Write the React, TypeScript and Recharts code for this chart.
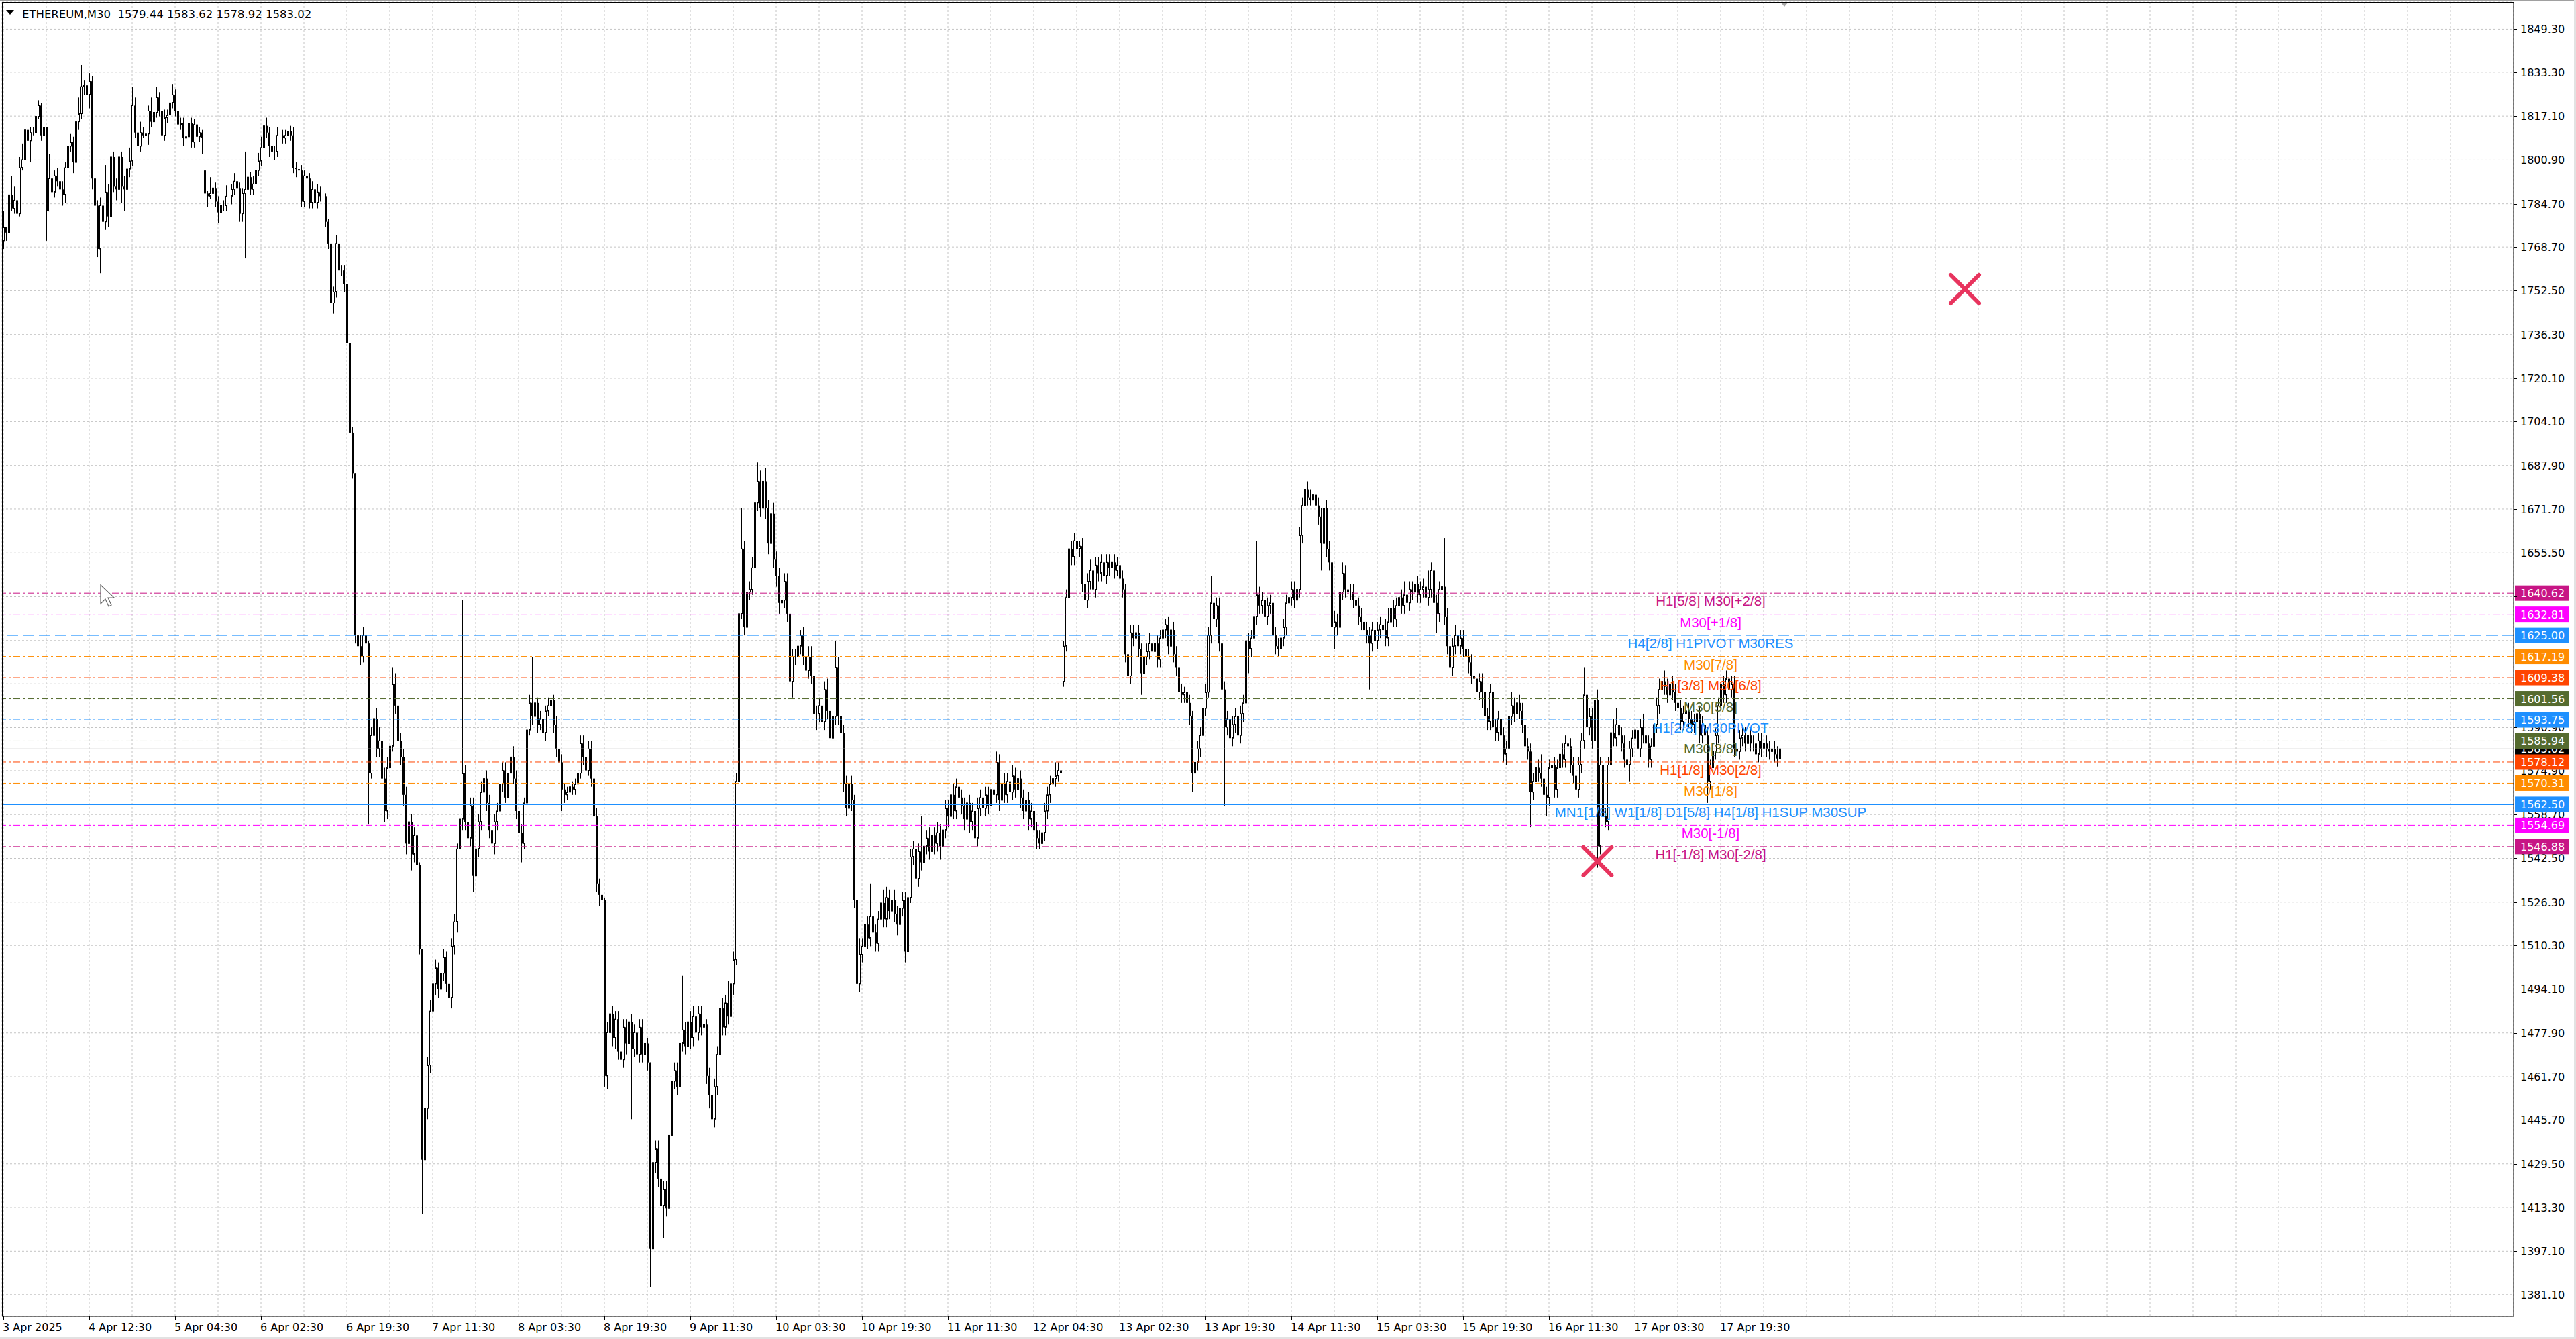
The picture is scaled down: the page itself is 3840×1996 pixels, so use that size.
import React from 'react';
import {
  ComposedChart, Bar, XAxis, YAxis, CartesianGrid, ReferenceLine, ReferenceDot,
} from 'recharts';

const W = 3840;
const H = 1996;

// ETHEREUM M30, one close per bar, wicks in price units above/below the body
const firstOpen = 1771;
const gapOpens: Record<number, number> = { 75: 1797, 395: 1608 };

const closes = [
  1776, 1774, 1788, 1783, 1786, 1781, 1798, 1801, 1812, 1808, 1811, 1811, 1817, 1821, 1810, 1813,
  1782, 1794, 1789, 1795, 1793, 1790, 1788, 1798, 1806, 1807.5, 1800, 1815, 1818, 1828, 1828.5, 1825,
  1830, 1794, 1784, 1768, 1784, 1778, 1789, 1780, 1802, 1791, 1790, 1802, 1791, 1790, 1797.5, 1800.5,
  1821, 1811, 1806, 1811, 1810, 1810.5, 1819, 1815, 1818.5, 1824, 1819, 1810, 1816.5, 1817.5, 1822, 1825,
  1819, 1814, 1814.5, 1809, 1809.5, 1814.5, 1807.5, 1814, 1809.5, 1811, 1809, 1788.5, 1787.5, 1788.5, 1790.5, 1785.5,
  1781.5, 1784, 1784, 1787.5, 1787.5, 1790, 1793, 1790.5, 1781, 1788.5, 1790, 1794.5, 1790, 1792, 1797, 1800.5,
  1805.5, 1813.5, 1811, 1806, 1804, 1804, 1810, 1810, 1809, 1810, 1811.5, 1810, 1798, 1797.5, 1797, 1785.5,
  1795, 1794, 1785, 1790, 1785, 1789, 1787.5, 1787.5, 1778, 1770, 1748, 1752, 1770, 1760, 1760, 1755,
  1733, 1700, 1685, 1625, 1621, 1617, 1625, 1622, 1574, 1588, 1594, 1583, 1586, 1572, 1560, 1576,
  1584, 1607, 1599, 1586, 1580, 1566, 1548, 1556, 1544, 1551, 1540, 1509, 1431, 1450, 1466, 1486,
  1496, 1502, 1494, 1500, 1506, 1496, 1491, 1510, 1519, 1546, 1557, 1574, 1556, 1550, 1562, 1536,
  1546, 1556, 1567, 1572, 1563, 1553, 1548, 1556, 1560, 1570, 1575, 1565, 1574, 1580, 1572, 1560,
  1552, 1548, 1563, 1590, 1600, 1595, 1600, 1592, 1594, 1589, 1597, 1599, 1601, 1592, 1583, 1578,
  1568, 1566, 1567, 1569, 1568, 1570, 1574, 1585, 1580, 1575, 1583, 1572, 1558, 1533, 1529, 1527,
  1462, 1478, 1485, 1476, 1483, 1471, 1468, 1480, 1474, 1482, 1472, 1478, 1470, 1480, 1470, 1474,
  1467, 1398, 1430, 1435, 1424, 1414, 1420, 1413, 1440, 1460, 1464, 1458, 1474, 1479, 1473, 1482,
  1476, 1484, 1478, 1485, 1480, 1481, 1462, 1455, 1446, 1458, 1470, 1487, 1480, 1489, 1484, 1496,
  1505, 1571, 1633, 1657, 1628, 1641, 1642, 1650, 1674, 1682, 1672, 1682, 1672, 1659, 1670, 1653,
  1647, 1637, 1638, 1645, 1633, 1608, 1617, 1617, 1621, 1625, 1617, 1612, 1617, 1610, 1596, 1596,
  1599, 1593, 1605, 1597, 1587, 1595, 1613, 1595, 1589, 1570, 1561, 1570, 1564, 1527, 1496, 1507,
  1510, 1518, 1513, 1521, 1515, 1511, 1520, 1526, 1520, 1528, 1523, 1527, 1522, 1518, 1524, 1527,
  1508, 1528, 1543, 1546, 1535, 1545, 1541, 1547, 1550, 1545, 1551, 1548, 1552, 1547, 1553, 1561,
  1558, 1566, 1560, 1569, 1565, 1562, 1557, 1563, 1556, 1560, 1550, 1561, 1565, 1561, 1566, 1562,
  1568, 1566, 1578, 1564, 1570, 1566, 1571, 1567, 1573, 1568, 1572, 1565, 1560, 1564, 1557, 1560,
  1553, 1550, 1548, 1552, 1560, 1566, 1570, 1572, 1573, 1575, 1574, 1621, 1639, 1657, 1654, 1660,
  1657, 1658, 1644, 1638, 1645, 1649, 1642, 1651, 1648, 1652, 1647, 1652, 1650, 1652, 1649, 1651,
  1646, 1642, 1618, 1610, 1626, 1624, 1626, 1620, 1611, 1617, 1619, 1622, 1619, 1622, 1616, 1624,
  1627, 1629, 1621, 1627, 1618, 1613, 1604, 1603, 1604, 1600, 1595, 1574, 1578, 1583, 1588, 1598,
  1604, 1625, 1637, 1631, 1636, 1622, 1605, 1591, 1594, 1587, 1592, 1595, 1588, 1596, 1600, 1623,
  1620, 1624, 1632, 1640, 1636, 1638, 1632, 1636, 1637, 1625, 1621, 1620, 1624, 1628, 1637, 1639,
  1642, 1638, 1642, 1662, 1673, 1679, 1676, 1675, 1677, 1673, 1669, 1659, 1672, 1657, 1652, 1628,
  1630, 1628, 1641, 1648, 1642, 1641, 1641, 1638, 1636, 1632, 1630, 1627, 1625, 1622, 1627, 1623,
  1627, 1629, 1627, 1624, 1630, 1635, 1631, 1636, 1639, 1636, 1640, 1637, 1642, 1641, 1644, 1640,
  1642, 1643, 1639, 1642, 1649, 1637, 1633, 1642, 1643, 1632, 1621, 1613, 1621, 1625, 1621, 1624,
  1620, 1617, 1615, 1610, 1609, 1604, 1608, 1604, 1595, 1593, 1604, 1591, 1589, 1594, 1588, 1581,
  1583, 1595, 1599, 1596, 1600, 1597, 1592, 1584, 1582, 1567, 1571, 1576, 1574, 1572, 1566, 1565,
  1576, 1577, 1568, 1576, 1581, 1579, 1585, 1584, 1577, 1573, 1568, 1577, 1586, 1603, 1591, 1595,
  1586, 1601, 1547, 1577, 1558, 1556, 1577, 1589, 1587, 1592, 1588, 1585, 1579, 1577, 1583, 1587,
  1590, 1583, 1591, 1588, 1585, 1579, 1584, 1592, 1599, 1605, 1608, 1606, 1603, 1607, 1604, 1600,
  1598, 1593, 1596, 1597, 1594, 1592, 1593, 1596, 1588, 1592, 1588, 1571, 1576, 1582, 1588, 1599,
  1607, 1603, 1609, 1605, 1607, 1583, 1582, 1587, 1588, 1585, 1588, 1585, 1585, 1581, 1586, 1583,
  1585, 1583, 1582, 1583, 1581, 1579.44, 1583.02,
];

const wickUp = [
  6, 0, 10, 7, 5, 2, 4, 6, 6, 4, 2, 2, 4, 2, 1, 4,
  0, 9, 4, 2, 3, 2, 3, 2, 3, 3, 2, 3, 6, 8, 2, 3,
  3, 2, 6, 2, 3, 2, 10, 3, 7, 2, 3, 18, 2, 4, 7, 5,
  7, 3, 2, 4, 2, 2, 2, 5, 2, 4, 2, 2, 3, 2, 2, 4,
  2, 2, 2, 2, 2, 2, 2, 2, 2, 2, 1, 0, 1, 6, 2, 2,
  2, 2, 2, 4, 2, 2, 3, 3, 2, 2, 14, 3, 2, 3, 3, 3,
  4, 5, 3, 2, 2, 2, 3, 2, 2, 2, 2, 2, 3, 2, 2, 2,
  2, 3, 2, 3, 2, 3, 2, 2, 1, 1, 2, 2, 3, 4, 2, 2,
  1, 2, 2, 0, 6, 4, 3, 3, 1, 3, 3, 4, 5, 3, 4, 4,
  4, 6, 4, 3, 3, 3, 3, 3, 3, 3, 4, 1, 0, 3, 3, 4,
  3, 3, 2, 20, 3, 2, 3, 3, 3, 2, 3, 64, 3, 8, 3, 3,
  3, 3, 4, 4, 3, 3, 2, 3, 3, 4, 3, 3, 5, 3, 4, 3,
  3, 3, 2, 2, 3, 17, 3, 2, 3, 2, 2, 3, 3, 2, 3, 2,
  3, 2, 2, 2, 2, 2, 2, 3, 3, 2, 3, 3, 2, 3, 2, 3,
  1, 4, 15, 3, 3, 3, 4, 3, 3, 4, 3, 3, 3, 3, 3, 3,
  2, 0, 5, 3, 3, 3, 3, 3, 5, 4, 3, 3, 3, 20, 3, 3,
  4, 4, 3, 3, 3, 3, 2, 3, 4, 3, 3, 3, 4, 3, 8, 4,
  3, 3, 3, 15, 3, 4, 3, 4, 5, 7, 4, 3, 5, 3, 3, 4,
  3, 3, 3, 3, 3, 2, 3, 3, 3, 2, 3, 3, 4, 4, 2, 3,
  3, 3, 3, 4, 3, 3, 10, 4, 3, 3, 3, 6, 3, 2, 2, 6,
  3, 4, 3, 12, 3, 3, 3, 6, 5, 4, 3, 3, 4, 3, 3, 3,
  3, 3, 3, 3, 3, 3, 13, 3, 3, 4, 3, 3, 4, 3, 18, 3,
  3, 3, 4, 3, 4, 3, 3, 3, 3, 3, 3, 4, 3, 3, 3, 3,
  4, 25, 4, 3, 3, 4, 3, 3, 4, 3, 3, 3, 3, 3, 3, 3,
  3, 3, 3, 3, 3, 3, 3, 3, 5, 3, 4, 2, 3, 12, 3, 3,
  5, 2, 3, 3, 3, 4, 5, 3, 3, 3, 5, 3, 3, 3, 3, 3,
  3, 3, 2, 2, 3, 3, 3, 3, 2, 3, 3, 4, 3, 3, 3, 3,
  3, 2, 3, 2, 3, 3, 3, 3, 2, 3, 3, 2, 3, 3, 3, 3,
  3, 3, 10, 3, 3, 3, 2, 3, 3, 3, 3, 3, 4, 3, 3, 10,
  3, 3, 3, 20, 3, 3, 3, 3, 3, 3, 3, 3, 3, 3, 3, 3,
  3, 3, 5, 3, 3, 12, 3, 3, 4, 3, 3, 3, 18, 3, 3, 2,
  4, 3, 3, 4, 3, 3, 3, 3, 3, 3, 3, 3, 3, 3, 3, 3,
  3, 3, 3, 4, 5, 3, 3, 3, 3, 3, 5, 4, 3, 3, 3, 3,
  3, 3, 3, 7, 3, 3, 3, 3, 3, 18, 3, 3, 3, 4, 3, 3,
  3, 3, 3, 3, 3, 3, 3, 3, 3, 3, 3, 3, 3, 3, 3, 3,
  3, 3, 5, 3, 3, 3, 3, 3, 3, 3, 3, 3, 3, 7, 3, 3,
  3, 7, 3, 3, 3, 4, 3, 3, 3, 3, 3, 3, 3, 10, 5, 3,
  3, 12, 4, 3, 3, 3, 3, 3, 5, 6, 3, 3, 3, 3, 3, 3,
  3, 3, 3, 5, 3, 3, 3, 3, 3, 4, 3, 4, 3, 5, 3, 3,
  3, 3, 3, 3, 3, 3, 3, 5, 3, 3, 3, 3, 3, 3, 3, 3,
  7, 3, 3, 4, 3, 3, 3, 3, 3, 3, 3, 3, 3, 3, 3, 3,
  3, 3, 3, 3, 3, 3, 0.6,
];

const wickDn = [
  3, 3, 2, 1, 2, 2, 1, 1, 2, 2, 8, 1, 1, 1, 2, 4,
  11, 0, 3, 2, 2, 3, 4, 3, 2, 2, 4, 2, 3, 2, 3, 2,
  5, 4, 3, 3, 9, 2, 3, 4, 3, 2, 4, 3, 6, 8, 4, 3,
  2, 2, 3, 2, 1, 2, 4, 2, 2, 2, 2, 3, 2, 2, 3, 2,
  2, 3, 2, 3, 2, 2, 2, 2, 2, 2, 6, 3, 4, 1, 2, 2,
  4, 2, 2, 2, 2, 3, 2, 2, 3, 3, 24, 2, 2, 2, 2, 2,
  2, 2, 2, 4, 2, 3, 2, 2, 2, 2, 2, 2, 2, 3, 3, 2,
  2, 2, 2, 2, 3, 2, 2, 2, 2, 2, 10, 4, 2, 3, 2, 3,
  3, 3, 2, 3, 18, 3, 2, 2, 19, 2, 4, 3, 3, 34, 4, 3,
  2, 2, 3, 3, 3, 4, 4, 2, 6, 3, 2, 2, 20, 2, 4, 3,
  4, 4, 3, 3, 3, 3, 3, 4, 3, 4, 3, 4, 3, 14, 3, 6,
  6, 3, 3, 3, 3, 3, 3, 4, 3, 3, 3, 2, 3, 3, 2, 3,
  4, 7, 2, 3, 2, 3, 2, 3, 2, 3, 3, 2, 3, 3, 3, 3,
  8, 3, 2, 2, 2, 2, 3, 2, 3, 3, 2, 3, 3, 3, 4, 4,
  4, 5, 4, 3, 4, 3, 14, 3, 4, 3, 26, 3, 4, 3, 3, 4,
  3, 14, 2, 4, 3, 4, 12, 3, 3, 2, 3, 3, 2, 3, 3, 3,
  4, 3, 4, 3, 3, 3, 3, 5, 6, 3, 3, 4, 3, 3, 3, 3,
  4, 2, 3, 2, 3, 10, 3, 2, 3, 3, 3, 3, 4, 4, 3, 3,
  4, 4, 6, 3, 3, 3, 6, 3, 3, 3, 3, 4, 3, 3, 4, 6,
  3, 4, 3, 3, 4, 3, 3, 3, 4, 3, 3, 4, 4, 3, 23, 3,
  3, 3, 4, 3, 4, 3, 3, 3, 3, 3, 3, 4, 3, 4, 3, 3,
  4, 3, 2, 3, 3, 3, 3, 3, 3, 3, 3, 4, 3, 5, 3, 3,
  4, 3, 3, 3, 3, 3, 4, 3, 4, 3, 9, 3, 3, 3, 3, 3,
  3, 3, 3, 4, 3, 3, 3, 3, 3, 3, 3, 4, 3, 3, 4, 3,
  3, 4, 2, 3, 3, 3, 3, 3, 3, 2, 2, 2, 2, 2, 3, 3,
  3, 3, 3, 9, 3, 3, 3, 3, 3, 3, 3, 3, 3, 3, 3, 2,
  3, 3, 3, 2, 3, 3, 3, 3, 8, 3, 3, 3, 3, 3, 3, 3,
  3, 3, 3, 3, 3, 3, 3, 3, 3, 3, 3, 7, 4, 3, 3, 3,
  3, 2, 3, 4, 3, 3, 4, 29, 3, 13, 3, 3, 5, 3, 3, 3,
  9, 3, 3, 3, 3, 3, 3, 3, 3, 3, 3, 3, 3, 3, 3, 3,
  3, 3, 3, 3, 3, 3, 3, 2, 3, 3, 3, 10, 3, 3, 3, 3,
  8, 3, 3, 3, 3, 3, 3, 3, 3, 3, 3, 4, 3, 17, 3, 3,
  3, 3, 3, 3, 3, 3, 3, 3, 3, 3, 3, 3, 3, 3, 3, 3,
  3, 3, 3, 3, 3, 3, 7, 3, 3, 3, 3, 11, 3, 3, 3, 3,
  3, 3, 4, 3, 3, 3, 3, 6, 8, 3, 3, 5, 3, 3, 8, 3,
  4, 3, 3, 3, 3, 3, 3, 3, 3, 13, 3, 3, 3, 3, 3, 7,
  3, 3, 3, 3, 3, 3, 3, 3, 3, 3, 3, 3, 3, 3, 3, 3,
  3, 3, 8, 3, 4, 2, 3, 3, 3, 3, 3, 3, 3, 3, 6, 3,
  3, 3, 3, 3, 3, 3, 3, 3, 3, 3, 3, 3, 3, 3, 3, 3,
  3, 3, 3, 3, 3, 3, 3, 3, 3, 3, 3, 8, 3, 3, 3, 3,
  3, 3, 3, 3, 3, 3, 4, 3, 3, 3, 3, 3, 3, 5, 3, 3,
  3, 3, 3, 3, 3, 3, 0.52,
];

// one time label every 32 bars, grid every 16
const timeLabels = [
  '3 Apr 2025', '4 Apr 12:30', '5 Apr 04:30', '6 Apr 02:30', '6 Apr 19:30', '7 Apr 11:30',
  '8 Apr 03:30', '8 Apr 19:30', '9 Apr 11:30', '10 Apr 03:30', '10 Apr 19:30', '11 Apr 11:30',
  '12 Apr 04:30', '13 Apr 02:30', '13 Apr 19:30', '14 Apr 11:30', '15 Apr 03:30', '15 Apr 19:30',
  '16 Apr 11:30', '17 Apr 03:30', '17 Apr 19:30',
];
const barsPerLabel = 32;
const barsPerGrid = 16;
const visibleSlots = 936;

const priceTicks = [
  1849.3, 1833.3, 1817.1, 1800.9, 1784.7, 1768.7, 1752.5, 1736.3, 1720.1, 1704.1,
  1687.9, 1671.7, 1655.5, 1639.3, 1623.1, 1607.1, 1590.9, 1574.9, 1558.7, 1542.5,
  1526.3, 1510.3, 1494.1, 1477.9, 1461.7, 1445.7, 1429.5, 1413.3, 1397.1, 1381.1,
];
const priceDomain = [1373.1, 1859.33];

const levelPrices = [1640.62, 1632.81, 1625.0, 1617.19, 1609.38, 1601.56, 1593.75, 1585.94, 1578.12, 1570.31, 1562.5, 1554.69, 1546.88];
const levelNames = [
  'H1[5/8] M30[+2/8]', 'M30[+1/8]', 'H4[2/8] H1PIVOT M30RES', 'M30[7/8]', 'H1[3/8] M30[6/8]',
  'M30[5/8]', 'H1[2/8] M30PIVOT', 'M30[3/8]', 'H1[1/8] M30[2/8]', 'M30[1/8]',
  'MN1[1/8] W1[1/8] D1[5/8] H4[1/8] H1SUP M30SUP', 'M30[-1/8]', 'H1[-1/8] M30[-2/8]',
];
const levelColors = [
  '#C71585', '#FF00FF', '#1E90FF', '#FF8C00', '#FF4500', '#556B2F', '#1E90FF',
  '#556B2F', '#FF4500', '#FF8C00', '#1E90FF', '#FF00FF', '#C71585',
];
const levelLabelBar = 636.25;
const bidPrice = 1583.02;
const headerText = 'ETHEREUM,M30  1579.44 1583.62 1578.92 1583.02';

const crossBars = [731, 594.1];
const crossPrices = [1753.1, 1541.4];

const candles = closes.map((c, i) => {
  const o = gapOpens[i] ?? (i === 0 ? firstOpen : closes[i - 1]);
  const hi = Math.max(o, c) + wickUp[i];
  const lo = Math.min(o, c) - wickDn[i];
  return { i, o, c, hi, lo, range: [lo, hi] };
});

const gridTicks = Array.from({ length: visibleSlots / barsPerGrid }, (_, k) => k * barsPerGrid);

const AXIS_FONT = 'DejaVu Sans';
const LABEL_FONT = 'Liberation Sans';

// chart layout, used to keep axis labels under the price boxes
const MARGIN = 3;
const X_AXIS_H = 31;
const Y_AXIS_W = 90;
const plotH = H - 2 * MARGIN - X_AXIS_H;
const pxPerPrice = plotH / (priceDomain[1] - priceDomain[0]);
const BOX_H = 23;
const boxPrices = [bidPrice, ...levelPrices];

const Candle = (props: any) => {
  const { x, y, width, height, payload } = props;
  if (!payload) return null;
  const { o, c, hi, lo } = payload;
  const cx = Math.round(x + width / 2);
  const span = hi - lo || 1;
  const py = (v: number) => y + ((hi - v) / span) * height;
  const top = py(Math.max(o, c));
  const bot = py(Math.min(o, c));
  const bull = c >= o;
  return (
    <g>
      <line x1={cx + 0.5} x2={cx + 0.5} y1={y} y2={y + height} stroke="#000" strokeWidth={1} />
      {bull ? (
        <rect x={cx - 0.5} y={top} width={2} height={Math.max(bot - top, 0)} fill="#fff" stroke="#000" strokeWidth={1} />
      ) : (
        <rect x={cx - 1} y={top} width={3} height={Math.max(bot - top, 1)} fill="#000" />
      )}
    </g>
  );
};

const TimeTick = (props: any) => {
  const { x, y, payload } = props;
  const v = payload.value;
  const idx = v / barsPerLabel;
  if (v % barsPerLabel !== 0 || idx >= timeLabels.length) return null;
  return (
    <g>
      <line x1={x + 0.5} x2={x + 0.5} y1={y} y2={y + 6} stroke="#000" />
      <text x={x - 1} y={y + 21.5} fontFamily={AXIS_FONT} fontSize={16} fill="#000">{timeLabels[idx]}</text>
    </g>
  );
};

const PriceTick = (props: any) => {
  const { x, y, payload } = props;
  const v: number = payload.value;
  // the parts of the label that no price box covers
  let pieces: number[][] = [[y - 10, y + 9]];
  boxPrices.forEach((bp) => {
    const by = y - (bp - v) * pxPerPrice;
    const a = by - BOX_H / 2;
    const b = by + BOX_H / 2;
    pieces = pieces.flatMap(([s, e]) => {
      if (b <= s || a >= e) return [[s, e]];
      const out: number[][] = [];
      if (a > s) out.push([s, a]);
      if (b < e) out.push([b, e]);
      return out;
    });
  });
  // glyphs sit between y-6 and y+6; a label with almost nothing left is hidden
  const shown = pieces.reduce((acc, [s, e]) => acc + Math.max(0, Math.min(e, y + 6) - Math.max(s, y - 6)), 0);
  const id = `ptk${String(v).replace('.', '_')}`;
  return (
    <g>
      <line x1={x} x2={x + 5} y1={Math.round(y) + 0.5} y2={Math.round(y) + 0.5} stroke="#000" />
      {shown >= 4 && (
        <>
          <defs>
            <clipPath id={id}>
              {pieces.map(([s, e], k) => <rect key={k} x={x} y={s} width={Y_AXIS_W} height={e - s} />)}
            </clipPath>
          </defs>
          <text x={x + 10} y={y + 6} clipPath={`url(#${id})`} fontFamily={AXIS_FONT} fontSize={16} fill="#000">
            {v.toFixed(2)}
          </text>
        </>
      )}
    </g>
  );
};

const PriceBox = ({ cx, cy, fill, value }: any) => (
  <g>
    <rect x={cx + 2} y={cy - BOX_H / 2} width={80} height={BOX_H} fill={fill} />
    <text x={cx + 10} y={cy + 6} fontFamily={AXIS_FONT} fontSize={16} fill="#fff">{value.toFixed(2)}</text>
  </g>
);

const Cross = ({ cx, cy }: any) => (
  <g stroke="#E8345E" strokeWidth={6} strokeLinecap="round">
    <line x1={cx - 21} y1={cy - 21} x2={cx + 21} y2={cy + 21} />
    <line x1={cx - 21} y1={cy + 21} x2={cx + 21} y2={cy - 21} />
  </g>
);

const dashFor = (i: number) => (i === 2 ? '17 7' : i === 10 ? undefined : '10 4 3 4');

export default function App() {
  return (
    <div style={{ position: 'absolute', left: 0, top: 0, width: W, height: H, background: '#fff', overflow: 'hidden' }}>
      <ComposedChart width={W} height={H} data={candles} margin={{ top: MARGIN, right: MARGIN, bottom: MARGIN, left: MARGIN }}>
        <CartesianGrid stroke="#c4c4c4" strokeDasharray="3 3" />
        <XAxis
          type="number" dataKey="i" domain={[-0.5, visibleSlots - 0.5]} allowDataOverflow
          ticks={gridTicks} interval={0} tick={<TimeTick />} tickLine={false}
          tickSize={0} tickMargin={0} height={X_AXIS_H} axisLine={{ stroke: '#000' }}
        />
        <YAxis
          orientation="right" type="number" domain={priceDomain} allowDataOverflow
          ticks={priceTicks} interval={0} tick={<PriceTick />} tickLine={false}
          tickSize={0} tickMargin={0} width={Y_AXIS_W} axisLine={{ stroke: '#000' }}
        />

        {levelPrices.map((p, i) => (
          <ReferenceLine
            key={`lv${i}`} y={p} stroke={levelColors[i]}
            strokeWidth={i === 10 ? 2 : 1} strokeDasharray={dashFor(i)}
          />
        ))}
        <ReferenceLine y={bidPrice} stroke="#c0c0c0" />

        {levelPrices.map((p, i) => (
          <ReferenceDot
            key={`lt${i}`} x={levelLabelBar} y={p} r={0} ifOverflow="visible"
            shape={(s: any) => (
              <text x={s.cx} y={s.cy + 19} textAnchor="middle" fill={levelColors[i]}
                fontFamily={LABEL_FONT} fontSize={20.5}>{levelNames[i]}</text>
            )}
          />
        ))}

        <Bar dataKey="range" shape={<Candle />} barSize={3} isAnimationActive={false} />

        {crossBars.map((b, i) => (
          <ReferenceDot key={`x${i}`} x={b} y={crossPrices[i]} r={0} ifOverflow="visible" shape={<Cross />} />
        ))}

        <ReferenceDot
          x={closes.length + 0.75} y={priceDomain[1]} r={0} ifOverflow="visible"
          shape={(s: any) => <polygon points={`${s.cx - 6},${s.cy} ${s.cx + 6},${s.cy} ${s.cx},${s.cy + 7}`} fill="#a8a8a8" />}
        />

        <ReferenceDot
          x={visibleSlots - 0.5} y={bidPrice} r={0} ifOverflow="visible"
          shape={(s: any) => <PriceBox cx={s.cx} cy={s.cy} fill="#000" value={bidPrice} />}
        />
        {levelPrices.map((p, i) => (
          <ReferenceDot
            key={`pb${i}`} x={visibleSlots - 0.5} y={p} r={0} ifOverflow="visible"
            shape={(s: any) => <PriceBox cx={s.cx} cy={s.cy} fill={levelColors[i]} value={p} />}
          />
        ))}
      </ComposedChart>

      <svg width={W} height={H} style={{ position: 'absolute', left: 0, top: 0, pointerEvents: 'none' }}>
        <line x1={0} x2={W} y1={0.5} y2={0.5} stroke="#a0a0a0" />
        <line x1={3} x2={3747} y1={3.5} y2={3.5} stroke="#000" />
        <line x1={3.5} x2={3.5} y1={3} y2={1962} stroke="#000" />
        <rect x={W - 3} y={0} width={3} height={H} fill="#e2e2e2" />
        <rect x={0} y={H - 3} width={W} height={3} fill="#e2e2e2" />
        <polygon points="9,15 21,15 15,22" fill="#000" />
        <text x={33} y={26.5} fontFamily={AXIS_FONT} fontSize={16.5} fill="#000" xmlSpace="preserve">{headerText}</text>
        <polygon points="150,872 150,900 157,893 162,904 166,902 161,891 170,891" fill="#fff" stroke="#666" strokeWidth={1.2} />
      </svg>
    </div>
  );
}
